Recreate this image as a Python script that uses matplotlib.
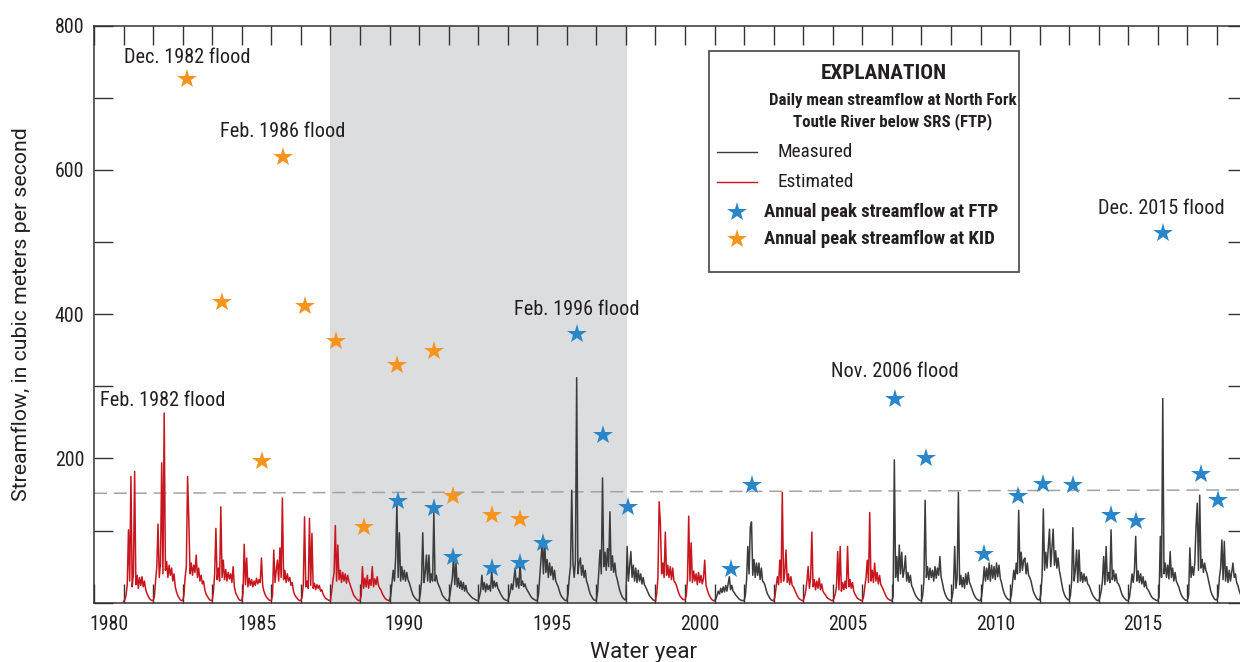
import numpy as np
import matplotlib.pyplot as plt
from matplotlib import font_manager
from matplotlib.patches import Rectangle
from matplotlib.lines import Line2D

# Prefer a condensed sans serif for the lettering, regular width for axis titles
def pick_condensed():
    fonts = font_manager.fontManager.ttflist
    prefs = ['Liberation Sans Narrow', 'Roboto Condensed', 'Noto Sans', 'Open Sans',
             'DejaVu Sans', 'Roboto', 'Lato', 'Inter']
    for pref in prefs:
        for f in fonts:
            if not f.name.startswith(pref):
                continue
            if f.name == pref and f.stretch in ('condensed', 'semi-condensed',
                                                'extra-condensed'):
                return f.name, f.stretch
            if f.name != pref and ('Narrow' in f.name or 'Condensed' in f.name):
                return f.name, 'normal'
    return None, 'normal'

narrow_family, narrow_stretch = pick_condensed()
if narrow_family:
    plt.rcParams['font.family'] = [narrow_family, 'DejaVu Sans']
    plt.rcParams['font.stretch'] = narrow_stretch
    wide_family = narrow_family.replace(' Condensed', '').replace(' Narrow', '')
    fs = 1.0
else:
    plt.rcParams['font.family'] = ['Liberation Sans', 'DejaVu Sans']
    wide_family = 'Liberation Sans'
    fs = 0.88
wide_font = dict(family=[wide_family, 'DejaVu Sans'], stretch='normal')

# Daily mean streamflow at FTP, sampled twice a month (Oct 1, Oct 16, ... Sep 16)
water_years = list(range(1981, 2019))
estimated_years = [1981, 1982, 1983, 1984, 1985, 1986, 1987, 1988, 1989,
                   1999, 2000, 2003, 2004, 2005, 2006]
flow_halfmonth = [
    [2, 4, 10, 25, 101, 30, 175, 22, 40, 182, 25, 38, 20, 35, 24, 36, 22, 30, 18, 13, 9, 6, 4, 3],     # 1981
    [3, 8, 30, 50, 109, 35, 55, 194, 40, 263, 45, 57, 35, 52, 38, 48, 30, 40, 22, 15, 10, 7, 4, 3],     # 1982
    [3, 10, 35, 50, 175, 115, 40, 55, 38, 52, 42, 66, 35, 48, 30, 38, 26, 30, 18, 12, 9, 6, 4, 3],      # 1983
    [3, 15, 40, 103, 32, 48, 30, 133, 35, 59, 32, 46, 30, 42, 33, 40, 28, 50, 22, 14, 10, 7, 4, 3],     # 1984
    [3, 12, 81, 25, 62, 22, 34, 24, 32, 22, 30, 24, 34, 26, 32, 28, 62, 24, 16, 11, 8, 6, 4, 3],        # 1985
    [3, 10, 73, 28, 45, 59, 30, 76, 35, 145, 32, 45, 28, 40, 30, 35, 24, 28, 16, 11, 8, 6, 4, 3],       # 1986
    [3, 8, 25, 119, 22, 30, 20, 117, 24, 96, 20, 27, 18, 25, 20, 24, 16, 18, 12, 9, 6, 5, 4, 3],        # 1987
    [3, 15, 30, 42, 107, 30, 80, 32, 45, 28, 42, 30, 40, 27, 38, 30, 25, 20, 15, 10, 8, 6, 4, 3],       # 1988
    [3, 10, 50, 20, 34, 22, 38, 20, 32, 24, 50, 22, 33, 25, 36, 24, 20, 18, 13, 10, 7, 5, 4, 3],        # 1989
    [3, 10, 28, 45, 30, 63, 138, 35, 97, 30, 50, 32, 45, 30, 42, 32, 28, 22, 16, 11, 8, 6, 4, 3],       # 1990
    [3, 12, 30, 97, 28, 42, 66, 30, 66, 28, 40, 30, 125, 30, 38, 28, 24, 20, 15, 10, 8, 6, 4, 3],       # 1991
    [3, 10, 22, 34, 64, 25, 55, 22, 34, 20, 30, 18, 28, 16, 24, 15, 13, 11, 9, 7, 6, 5, 4, 3],          # 1992
    [3, 8, 16, 38, 18, 28, 15, 26, 18, 24, 16, 45, 20, 30, 22, 28, 20, 17, 13, 10, 7, 5, 4, 3],         # 1993
    [3, 8, 15, 26, 18, 32, 48, 22, 34, 20, 55, 24, 30, 22, 26, 20, 17, 14, 11, 8, 6, 5, 4, 3],          # 1994
    [3, 12, 35, 58, 83, 40, 87, 42, 60, 35, 55, 38, 50, 32, 45, 30, 26, 22, 16, 11, 8, 6, 4, 3],        # 1995
    [3, 12, 35, 50, 156, 55, 35, 58, 312, 40, 55, 62, 38, 52, 35, 45, 30, 25, 18, 12, 9, 6, 4, 3],      # 1996
    [4, 15, 45, 73, 40, 173, 50, 70, 45, 75, 50, 126, 45, 65, 42, 55, 38, 32, 24, 17, 12, 8, 6, 4],     # 1997
    [4, 78, 30, 50, 71, 35, 52, 30, 48, 28, 45, 30, 40, 26, 35, 25, 22, 18, 14, 10, 8, 6, 4, 3],        # 1998
    [3, 12, 35, 140, 110, 40, 55, 35, 98, 38, 52, 35, 50, 32, 48, 30, 28, 24, 18, 13, 9, 7, 5, 4],      # 1999
    [4, 10, 32, 120, 30, 83, 28, 44, 30, 40, 25, 42, 28, 38, 26, 34, 59, 25, 18, 13, 9, 6, 4, 3],       # 2000
    [3, 5, 10, 16, 12, 20, 14, 22, 15, 24, 16, 26, 36, 18, 24, 16, 14, 11, 9, 7, 5, 4, 3, 3],           # 2001
    [3, 10, 32, 78, 40, 105, 112, 38, 60, 35, 55, 38, 55, 32, 48, 30, 28, 24, 17, 12, 9, 6, 4, 3],      # 2002
    [3, 8, 22, 36, 25, 59, 28, 153, 30, 42, 73, 28, 40, 25, 36, 24, 22, 18, 14, 10, 7, 5, 4, 3],        # 2003
    [3, 8, 16, 30, 50, 20, 34, 98, 22, 32, 18, 30, 20, 34, 18, 26, 16, 13, 11, 8, 6, 5, 4, 3],          # 2004
    [3, 6, 12, 22, 71, 18, 78, 16, 28, 18, 30, 20, 78, 22, 32, 20, 28, 16, 12, 9, 6, 5, 4, 3],          # 2005
    [3, 8, 22, 35, 59, 28, 125, 30, 45, 28, 55, 30, 42, 26, 38, 25, 22, 18, 14, 10, 7, 5, 4, 3],        # 2006
    [3, 8, 198, 35, 64, 30, 80, 40, 70, 35, 45, 65, 30, 42, 28, 38, 24, 20, 15, 11, 8, 6, 4, 3],        # 2007
    [3, 10, 30, 142, 35, 50, 32, 48, 35, 45, 30, 50, 34, 48, 38, 64, 35, 28, 19, 13, 9, 6, 4, 3],       # 2008
    [3, 8, 22, 78, 20, 35, 153, 25, 38, 22, 35, 20, 40, 25, 42, 28, 24, 19, 14, 10, 7, 5, 4, 3],        # 2009
    [3, 10, 28, 50, 30, 48, 32, 55, 30, 52, 34, 50, 32, 55, 36, 52, 34, 28, 20, 14, 10, 7, 5, 4],       # 2010
    [4, 10, 28, 45, 32, 55, 40, 128, 42, 70, 45, 59, 62, 40, 55, 38, 35, 30, 22, 15, 11, 8, 5, 4],      # 2011
    [4, 12, 38, 130, 45, 70, 48, 77, 102, 50, 75, 102, 52, 72, 48, 62, 45, 36, 26, 17, 12, 8, 6, 4],    # 2012
    [4, 10, 30, 104, 30, 45, 73, 28, 73, 30, 42, 28, 40, 30, 36, 26, 24, 20, 15, 11, 8, 6, 4, 3],       # 2013
    [3, 8, 16, 30, 64, 25, 78, 30, 42, 28, 101, 32, 45, 30, 40, 28, 26, 22, 16, 11, 8, 6, 4, 3],        # 2014
    [3, 8, 22, 40, 28, 45, 92, 30, 44, 28, 40, 26, 36, 22, 30, 20, 18, 15, 11, 8, 6, 5, 4, 3],          # 2015
    [3, 8, 92, 35, 283, 40, 55, 35, 52, 33, 71, 35, 48, 30, 42, 30, 26, 22, 16, 11, 8, 6, 4, 3],        # 2016
    [4, 10, 76, 35, 50, 38, 55, 105, 138, 45, 149, 48, 60, 42, 55, 45, 40, 32, 24, 16, 11, 8, 5, 4],    # 2017
    [4, 10, 35, 48, 87, 32, 85, 30, 50, 28, 45, 30, 42, 55, 35, 40, 28, 24, 17, 12, 9, 6, 5, 4],        # 2018
]

# Annual peak streamflow (decimal water year of peak, m3/s)
ftp_peak_time = [1990.28, 1991.51, 1992.14, 1993.47, 1994.41, 1995.20, 1996.34, 1997.24,
                 1998.06, 2001.55, 2002.26, 2007.09, 2008.16, 2010.13, 2011.28, 2012.13,
                 2013.12, 2014.40, 2015.25, 2016.17, 2017.45, 2018.03]
ftp_peak_flow = [141, 131, 63, 48, 55, 83, 372, 232, 132, 47, 163, 282, 200, 68, 148, 165,
                 163, 122, 113, 513, 178, 142]
kid_peak_time = [1983.15, 1984.33, 1985.69, 1986.40, 1987.14, 1988.19, 1989.15, 1990.25,
                 1991.50, 1992.14, 1993.46, 1994.40]
kid_peak_flow = [726, 417, 196, 618, 411, 363, 105, 329, 349, 148, 122, 116]

# Flood labels: text, x, y
flood_labels = [
    ("Dec. 1982 flood", 1981.02, 756),
    ("Feb. 1986 flood", 1984.26, 653),
    ("Feb. 1982 flood", 1980.19, 281),
    ("Feb. 1996 flood", 1994.21, 407),
    ("Nov. 2006 flood", 2004.94, 321),
    ("Dec. 2015 flood", 2013.98, 547),
]

# Trend of mean streamflow over the record
trend_years = [1980, 2019]
trend_flow = [151.7, 156.4]

shade_span = (1988.0, 1998.05)

black = '#3c3c3c'
red = '#c8161e'
blue = '#2a86c8'
orange = '#f7941d'
text_color = '#231f20'

fig = plt.figure(figsize=(12.4, 6.62), dpi=100)
ax = fig.add_axes([94 / 1240, 59.3 / 662, 1152.5 / 1240, 577 / 662])

ax.axvspan(*shade_span, color='#dcdddf', lw=0, zorder=0)
ax.plot(trend_years, trend_flow, color='#a3a3a3', lw=1.1, dashes=(8.5, 4.5), zorder=1)

q = np.concatenate(flow_halfmonth).astype(float)
t = np.concatenate([wy + np.arange(24) / 24 for wy in water_years])
est = np.repeat([wy in estimated_years for wy in water_years], 24)

# one line per run of measured or estimated years, joined at the boundaries
start = 0
for i in range(1, len(q) + 1):
    if i == len(q) or est[i] != est[start]:
        end = min(i + 1, len(q))
        ax.plot(t[start:end], q[start:end], color=red if est[start] else black,
                lw=1.1, zorder=2)
        start = i

ax.plot(kid_peak_time, kid_peak_flow, ls='none', marker='*', ms=15, mew=0,
        color=orange, zorder=4)
ax.plot(ftp_peak_time, ftp_peak_flow, ls='none', marker='*', ms=15, mew=0,
        color=blue, zorder=4)

for label, x, y in flood_labels:
    ax.text(x, y, label, fontsize=14.6 * fs, color=text_color, ha='left', va='center',
            zorder=5)

ax.set_xlim(1980, 2019)
ax.set_ylim(0, 800)

ax.set_xticks(range(1980, 2020))
ax.set_xticklabels([])
label_years = list(range(1980, 2019, 5))
ax.set_xticks([y + 0.5 for y in label_years], [str(y) for y in label_years], minor=True)
ax.set_yticks(range(0, 900, 100))
ax.set_yticklabels(['' if v == 0 or v % 200 else str(v) for v in range(0, 900, 100)])

ax.tick_params(which='major', direction='in', length=13.7, width=1.0, color='#333333',
               top=True, right=True, labelsize=14.3 * fs, labelcolor=text_color, pad=7)
ax.tick_params(axis='x', which='minor', length=0, top=False, labelsize=14.3 * fs,
               labelcolor=text_color, pad=9)
for s in ax.spines.values():
    s.set_linewidth(1.1)
    s.set_color('#333333')

ax.set_xlabel('Water year', fontsize=16.2 * fs, color=text_color, **wide_font)
ax.xaxis.set_label_coords(0.4768, -0.068)
ax.set_ylabel('Streamflow, in cubic meters per second', fontsize=15.3 * fs,
              color=text_color, **wide_font)
ax.yaxis.set_label_coords(-0.055, 0.5)

# Explanation box
ax.add_patch(Rectangle((0.5336, 0.5737), 0.2690, 0.3825, transform=ax.transAxes,
                       facecolor='white', edgecolor='#444444', lw=1.2, zorder=6))
ax.text(0.6855, 0.9163, 'EXPLANATION', transform=ax.transAxes, fontsize=15.3 * fs,
        fontweight='bold', ha='center', va='center', color=text_color, zorder=7)
ax.text(0.693, 0.871, 'Daily mean streamflow at North Fork', transform=ax.transAxes,
        fontsize=12.2 * fs, fontweight='bold', ha='center', va='center', color=text_color,
        zorder=7)
ax.text(0.693, 0.834, 'Toutle River below SRS (FTP)', transform=ax.transAxes,
        fontsize=12.2 * fs, fontweight='bold', ha='center', va='center', color=text_color,
        zorder=7)

entries = [
    (0.7816, Line2D([0.5406, 0.5753], [0.7816, 0.7816], color=black, lw=1.0),
     'Measured', 'normal', 0.5932),
    (0.7296, Line2D([0.5406, 0.5753], [0.7296, 0.7296], color=red, lw=1.0),
     'Estimated', 'normal', 0.5932),
    (0.6777, Line2D([0.5582], [0.6777], ls='none', marker='*', ms=15, mew=0, color=blue),
     'Annual peak streamflow at FTP', 'bold', 0.5816),
    (0.6298, Line2D([0.5582], [0.6298], ls='none', marker='*', ms=15, mew=0, color=orange),
     'Annual peak streamflow at KID', 'bold', 0.5816),
]
for y, handle, label, weight, tx in entries:
    handle.set_transform(ax.transAxes)
    handle.set_zorder(7)
    ax.add_line(handle)
    ax.text(tx, y, label, transform=ax.transAxes,
            fontsize=(13.9 if weight == 'normal' else 13.5) * fs,
            fontweight=weight, ha='left', va='center', color=text_color, zorder=7)

fig.savefig('out.png', dpi=100)
